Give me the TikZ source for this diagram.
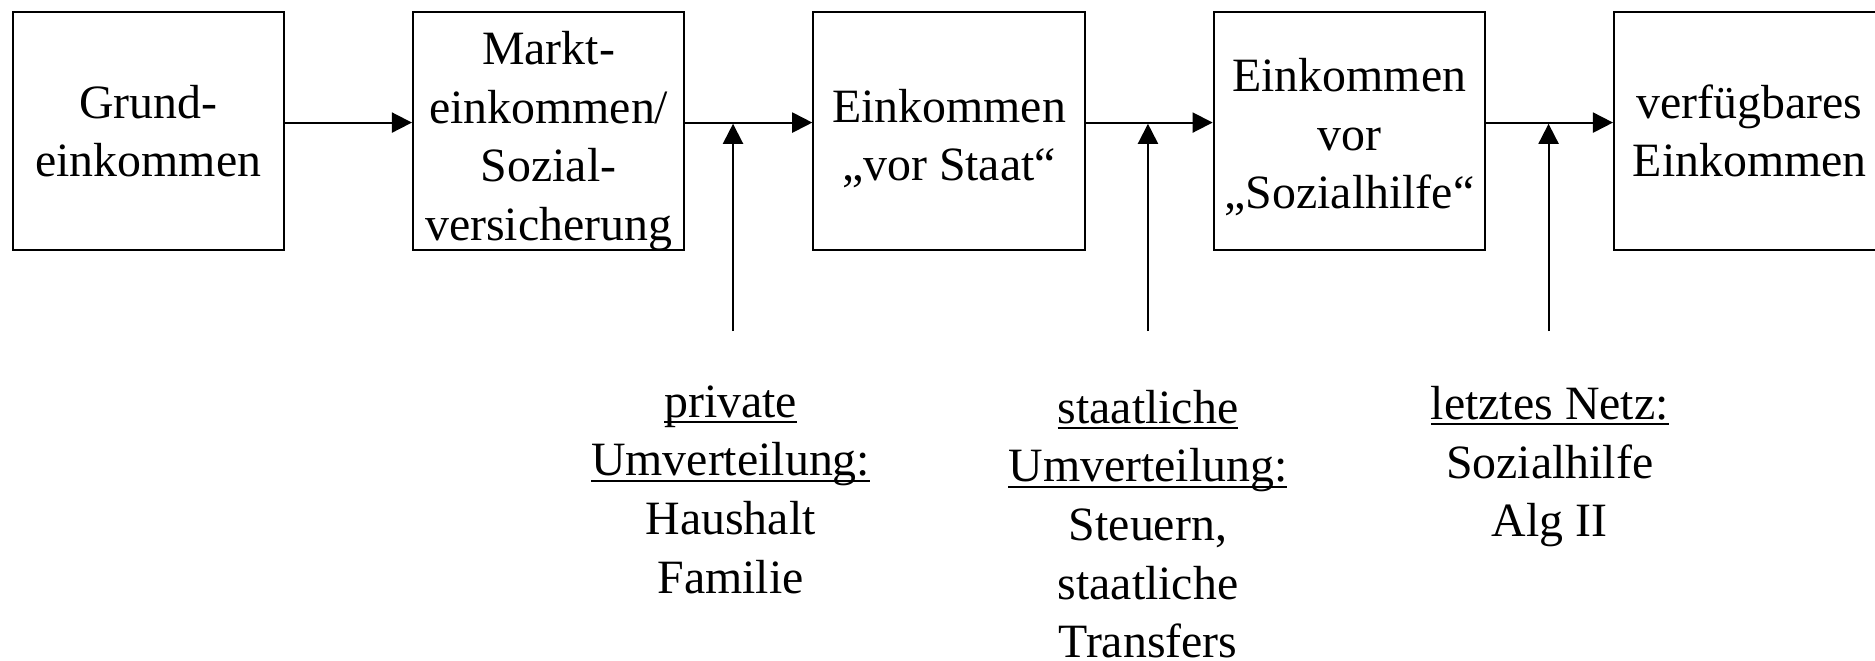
\documentclass[tikz,border=0pt]{standalone}
\usepackage{fontspec}
\setmainfont{Liberation Serif}
\usetikzlibrary{positioning,arrows.meta}
\newsavebox{\ulbox}
\newcommand{\unterstr}[1]{\sbox\ulbox{#1}\rlap{\rule[-2.4pt]{\wd\ulbox}{0.9pt}}\usebox\ulbox}
\begin{document}
\begin{tikzpicture}[x=0.5pt, y=0.5pt, font=\fontsize{20}{24.5}\selectfont, node distance=53.1pt,
	box/.style={draw, line width=0.8pt, minimum width=113.5pt, minimum height=99.5pt, align=center, inner sep=0pt},
	pfeil/.style={-{Triangle[length=8.4pt,width=8.4pt]}, line width=0.8pt},
	info/.style={align=center, anchor=base, inner sep=0pt}]
	\useasboundingbox (0,0) rectangle (1568,-552);
	% Einkommensstufen
	\node[box] (grund) at (124,-109.5) {Grund-\\einkommen};
	\node[box, right=of grund, text depth=0pt, text height=91.5pt] (markt) {Markt-\\einkommen/\\Sozial-\\versicherung};
	\node[box, right=of markt, text depth=0pt, text height=41.7pt] (vorstaat) {Einkommen\\„vor Staat“};
	\node[box, right=of vorstaat, text depth=0pt, text height=65.2pt] (vorsh) {Einkommen\\vor\\„Sozialhilfe“};
	\node[box, right=of vorsh] (verf) {verfügbares\\Einkommen};
	\foreach \a/\b in {grund/markt, markt/vorstaat, vorstaat/vorsh, vorsh/verf}
		\draw[pfeil] ([yshift=3.5pt]\a.east) -- ([yshift=3.5pt]\b.west);
	% Umverteilung
	\node[info] (privat) at (611,-496) {\unterstr{private}\\\unterstr{Umverteilung:}\\Haushalt\\Familie};
	\node[info] (staat) at (960,-550) {\unterstr{staatliche}\\\unterstr{Umverteilung:}\\Steuern,\\staatliche\\Transfers};
	\node[info] (netz) at (1296,-449) {\unterstr{letztes Netz:}\\Sozialhilfe\\Alg II};
	\coordinate (s1) at (613,-277); \coordinate (j1) at (613,-103.5);
	\coordinate (s2) at (960,-277); \coordinate (j2) at (960,-103.5);
	\coordinate (s3) at (1295,-277); \coordinate (j3) at (1295,-103.5);
	\foreach \i in {1,2,3}
		\draw[pfeil] (s\i) -- (j\i);
\end{tikzpicture}
\end{document}
